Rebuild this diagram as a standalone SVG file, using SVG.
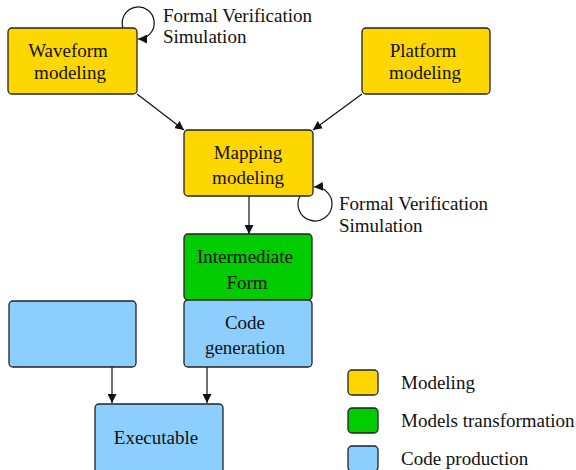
<svg xmlns="http://www.w3.org/2000/svg" width="576" height="470" viewBox="0 0 576 470">
<defs>
<style>
.box{stroke:#222;stroke-width:1.3}
.y{fill:#FFD700}.g{fill:#00CC00}.b{fill:#8CCFFF}
text{font-family:"Liberation Serif","Times New Roman",serif;font-size:19px;fill:#111}
.c{text-anchor:middle}
.ln{stroke:#111;stroke-width:1.2;fill:none}
</style>
<marker id="ah" viewBox="0 0 10 10" refX="10" refY="5" markerWidth="9" markerHeight="9" markerUnits="userSpaceOnUse" orient="auto"><path d="M0,0 L10,5 L0,10 z" fill="#111"/></marker>
</defs>
<rect width="576" height="470" fill="#fff"/>
<g id="connectors">
<line class="ln" x1="137" y1="94" x2="184" y2="130" marker-end="url(#ah)"/>
<line class="ln" x1="362" y1="94" x2="313" y2="130" marker-end="url(#ah)"/>
<line class="ln" x1="249" y1="196" x2="249" y2="234" marker-end="url(#ah)"/>
<line class="ln" x1="112" y1="367" x2="112" y2="403" marker-end="url(#ah)"/>
<line class="ln" x1="207" y1="367" x2="207" y2="403" marker-end="url(#ah)"/>
<path class="ln" d="M123,28 A16,16 0 1 1 138,39" marker-end="url(#ah)"/>
<path class="ln" d="M300,196 A17,17 0 1 0 314,187" marker-end="url(#ah)"/>
</g>
<g id="waveform"><rect class="box y" x="8" y="28" width="129" height="66" rx="4"/><text class="c" x="68" y="57">Waveform</text><text class="c" x="70" y="79">modeling</text></g>
<g id="platform"><rect class="box y" x="362" y="28" width="128" height="66" rx="4"/><text class="c" x="423" y="57">Platform</text><text class="c" x="425" y="79">modeling</text></g>
<g id="mapping"><rect class="box y" x="184" y="130" width="129" height="66" rx="4"/><text class="c" x="248" y="159">Mapping</text><text class="c" x="248" y="184">modeling</text></g>
<g id="intermediate"><rect class="box g" x="184" y="234" width="128" height="66" rx="4"/><text class="c" x="245" y="263">Intermediate</text><text class="c" x="247" y="289">Form</text></g>
<g id="codegen"><rect class="box b" x="184" y="300" width="128" height="67" rx="4"/><text class="c" x="245" y="329">Code</text><text class="c" x="245" y="354">generation</text></g>
<g id="blank"><rect class="box b" x="9" y="301" width="127" height="66" rx="4"/></g>
<g id="executable"><rect class="box b" x="95" y="404" width="128" height="70" rx="4"/><text class="c" x="156" y="444">Executable</text></g>
<g id="label1"><text x="163" y="22">Formal Verification</text><text x="163" y="43">Simulation</text></g>
<g id="label2"><text x="339" y="210">Formal Verification</text><text x="339" y="232">Simulation</text></g>
<g id="legend">
<rect class="box y" x="348" y="370" width="30" height="25" rx="4"/><text x="401" y="389">Modeling</text>
<rect class="box g" x="348" y="408" width="30" height="25" rx="4"/><text x="401" y="427">Models transformation</text>
<rect class="box b" x="348" y="446" width="30" height="25" rx="4"/><text x="401" y="465">Code production</text>
</g>
</svg>
